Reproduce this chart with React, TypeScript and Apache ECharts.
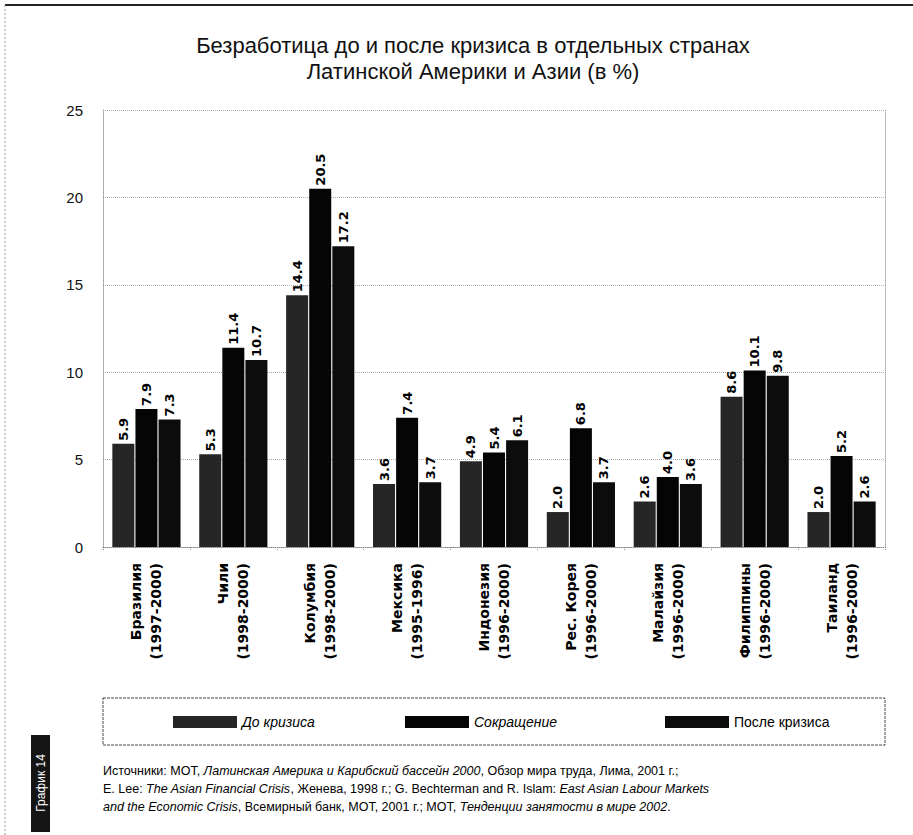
import React, { useEffect, useRef } from "react";
import * as echarts from "echarts";

const categories = [
  "Бразилия\n(1997-2000)",
  "Чили\n(1998-2000)",
  "Колумбия\n(1998-2000)",
  "Мексика\n(1995-1996)",
  "Индонезия\n(1996-2000)",
  "Рес. Корея\n(1996-2000)",
  "Малайзия\n(1996-2000)",
  "Филиппины\n(1996-2000)",
  "Таиланд\n(1996-2000)",
];
const seriesNames = ["До кризиса", "Сокращение", "После кризиса"];
const beforeCrisis = [5.9, 5.3, 14.4, 3.6, 4.9, 2.0, 2.6, 8.6, 2.0];
const contraction = [7.9, 11.4, 20.5, 7.4, 5.4, 6.8, 4.0, 10.1, 5.2];
const afterCrisis = [7.3, 10.7, 17.2, 3.7, 6.1, 3.7, 3.6, 9.8, 2.6];
const yTicks = { min: 0, max: 25, interval: 5 };

const titleLines = [
  "Безработица до и после кризиса в отдельных странах",
  "Латинской Америки и Азии (в %)",
];

const FONT = "'Liberation Sans', Arial, sans-serif";
const BOLDFONT = "'DejaVu Sans', sans-serif";

export default function App() {
  const ref = useRef<HTMLDivElement>(null);
  useEffect(() => {
    document.body.style.margin = "0";
    const chart = echarts.init(ref.current!, null, { renderer: "svg" });
    const colors = ["#262626", "#050505", "#0c0c0c"];
    const dataSets = [beforeCrisis, contraction, afterCrisis];
    const series = seriesNames.map((name, i) => ({
      name,
      type: "bar",
      data: dataSets[i],
      barWidth: 22,
      barGap: "5%",
      itemStyle: { color: colors[i] },
      label: {
        show: true,
        position: "top",
        rotate: 90,
        align: "left",
        verticalAlign: "middle",
        distance: 3,
        fontFamily: BOLDFONT,
        fontWeight: "bold",
        fontSize: 13,
        color: "#000",
        formatter: (p: any) => Number(p.value).toFixed(1),
      },
    }));
    const legendPos = [168, 400, 660];
    const legendItalic = [true, true, false];
    chart.setOption({
      animation: false,
      backgroundColor: "#fff",
      title: {
        text: titleLines.join("\n"),
        left: 468,
        textAlign: "center",
        top: 27,
        textStyle: {
          fontFamily: FONT,
          fontSize: 22,
          fontWeight: "normal",
          lineHeight: 26,
          color: "#111",
        },
      },
      legend: seriesNames.map((n, i) => ({
        data: [n],
        left: legendPos[i],
        top: 710,
        itemWidth: 64,
        itemHeight: 12,
        itemGap: 0,
        icon: "rect",
        textStyle: {
          fontFamily: FONT,
          fontSize: 14,
          fontStyle: legendItalic[i] ? "italic" : "normal",
          color: "#000",
        },
      })),
      grid: { left: 103, right: 28, top: 110, bottom: 288, containLabel: false },
      xAxis: {
        type: "category",
        data: categories,
        axisLine: { show: true, lineStyle: { color: "#888", type: "dotted" } },
        axisTick: { show: true, length: 4, lineStyle: { color: "#888", type: "dotted" } },
        axisLabel: {
          rotate: 90,
          margin: 16,
          fontFamily: BOLDFONT,
          fontWeight: "bold",
          fontSize: 14,
          lineHeight: 20,
          color: "#000",
          interval: 0,
        },
      },
      yAxis: [
        {
          type: "value",
          min: yTicks.min,
          max: yTicks.max,
          interval: yTicks.interval,
          axisLine: { show: true, lineStyle: { color: "#999", type: "dotted" } },
          axisTick: { show: false },
          axisLabel: { fontFamily: FONT, fontSize: 15, color: "#111", margin: 20 },
          splitLine: { show: true, lineStyle: { color: "#aaa", type: "dotted" } },
        },
        {
          type: "value",
          position: "right",
          min: yTicks.min,
          max: yTicks.max,
          interval: yTicks.interval,
          axisLine: { show: true, lineStyle: { color: "#aaa", type: "dotted" } },
          axisTick: { show: false },
          axisLabel: { show: false },
          splitLine: { show: false },
        },
      ],
      series,
      graphic: [
        { type: "line", shape: { x1: 5, y1: 5, x2: 913, y2: 5 }, style: { stroke: "#222", lineWidth: 2 } },
        { type: "line", shape: { x1: 5, y1: 5, x2: 5, y2: 835 }, style: { stroke: "#999", lineWidth: 1, lineDash: [2, 2] } },
        {
          type: "rect",
          shape: { x: 103, y: 698, width: 782, height: 47 },
          style: { fill: "none", stroke: "#444", lineWidth: 1, lineDash: [3, 1] },
        },
        { type: "rect", shape: { x: 31, y: 735, width: 19, height: 97 }, style: { fill: "#151515" } },
        {
          type: "text",
          x: 41,
          y: 783,
          rotation: Math.PI / 2,
          style: {
            text: "График 14",
            fill: "#fff",
            fontFamily: FONT,
            fontSize: 12,
            align: "center",
            verticalAlign: "middle",
          },
        },
        {
          type: "text",
          x: 103,
          y: 762,
          style: {
            text:
              "{n|Источники: МОТ, }{i|Латинская Америка и Карибский бассейн 2000}{n|, Обзор мира труда, Лима, 2001 г.;}\n" +
              "{n|E. Lee: }{i|The Asian Financial Crisis}{n|, Женева, 1998 г.; G. Bechterman and R. Islam: }{i|East Asian Labour Markets}\n" +
              "{i|and the Economic Crisis}{n|, Всемирный банк, МОТ, 2001 г.; МОТ, }{i|Тенденции занятости в мире 2002}{n|.}",
            fontFamily: FONT,
            fontSize: 12.5,
            lineHeight: 18,
            fill: "#000",
            rich: {
              n: { fontFamily: FONT, fontSize: 12.5, lineHeight: 18, color: "#000" },
              i: { fontFamily: FONT, fontSize: 12.5, lineHeight: 18, fontStyle: "italic", color: "#000" },
            },
          },
        },
      ],
    });
    return () => chart.dispose();
  }, []);
  return <div ref={ref} style={{ width: 913, height: 835 }} />;
}
